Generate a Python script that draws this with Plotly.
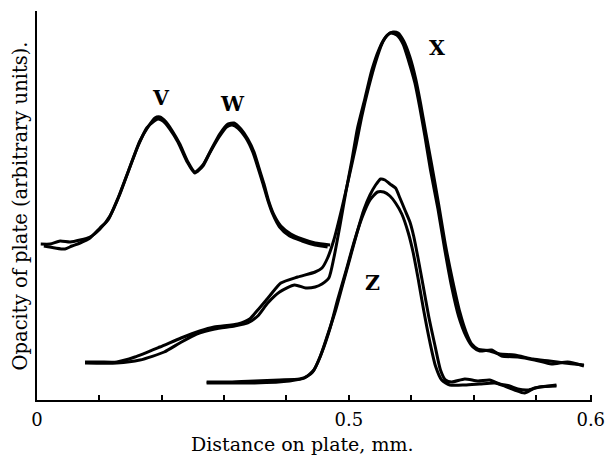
import plotly.graph_objects as go

# ---- data (distance on plate in mm-scale units, opacity in arbitrary units) ----
vw_a_x = [0.006,0.021,0.037,0.053,0.069,0.085,0.101,0.117,0.133,0.149,0.165,0.178,0.189,0.197,0.207,0.218,0.229,0.242,0.253,0.266,0.279,0.293,0.306,0.316,0.327,0.338,0.348,0.356,0.364,0.372,0.380,0.391,0.407,0.425,0.446,0.470]
vw_a_y = [15.6,15.6,15.9,15.8,16.0,16.3,17.1,18.4,20.6,23.3,25.9,27.3,28.2,28.3,27.8,26.8,25.6,23.8,22.8,23.5,25.0,26.6,27.6,27.7,27.1,26.1,24.8,23.2,21.6,19.8,18.5,17.4,16.6,16.1,15.7,15.5]
vw_b_x = [0.011,0.029,0.045,0.056,0.069,0.085,0.101,0.114,0.130,0.146,0.162,0.176,0.188,0.194,0.202,0.213,0.226,0.240,0.253,0.266,0.277,0.292,0.304,0.313,0.322,0.335,0.346,0.354,0.362,0.370,0.378,0.389,0.405,0.425,0.446,0.466]
vw_b_y = [15.4,15.2,15.1,15.4,15.7,16.2,17.2,18.0,20.2,22.8,25.4,27.2,27.9,28.1,27.9,27.1,25.8,23.9,22.7,23.4,24.7,26.3,27.3,27.5,27.2,26.2,24.8,23.3,21.7,20.0,18.6,17.3,16.4,15.9,15.5,15.3]

x_a_x = [0.077,0.101,0.128,0.157,0.197,0.231,0.261,0.284,0.322,0.341,0.354,0.373,0.391,0.418,0.446,0.457,0.466,0.476,0.489,0.500,0.511,0.521,0.532,0.543,0.553,0.562,0.571,0.579,0.588,0.598,0.607,0.615,0.623,0.633,0.644,0.655,0.667,0.678,0.688,0.697,0.707,0.726,0.742,0.766,0.795,0.822,0.846,0.877]
x_a_y = [3.8,3.8,3.8,4.3,5.3,6.2,6.9,7.3,7.6,8.1,9.0,10.4,11.7,12.3,12.8,13.2,14.2,16.0,19.2,22.2,25.3,28.4,31.3,33.8,35.6,36.5,36.8,36.7,35.9,34.3,32.2,29.7,26.9,23.5,19.6,15.5,11.8,8.8,6.8,5.6,5.1,4.9,4.6,4.5,4.1,3.9,3.7,3.5]
x_b_x = [0.077,0.128,0.165,0.204,0.229,0.256,0.285,0.317,0.338,0.354,0.370,0.389,0.413,0.431,0.446,0.457,0.468,0.476,0.486,0.495,0.505,0.514,0.526,0.537,0.548,0.558,0.567,0.577,0.587,0.596,0.606,0.614,0.622,0.631,0.643,0.654,0.665,0.676,0.688,0.699,0.710,0.729,0.745,0.771,0.798,0.825,0.851,0.877]
x_b_y = [3.7,3.7,4.0,4.8,5.7,6.6,7.1,7.4,7.7,8.4,9.7,10.8,11.5,11.2,11.3,11.6,12.2,14.2,17.5,20.7,24.0,27.2,30.2,33.0,35.0,36.2,36.7,36.5,35.6,33.9,31.7,29.2,26.4,23.0,19.1,15.0,11.3,8.4,6.4,5.3,4.9,5.0,4.4,4.3,4.0,3.6,3.8,3.4]

z_a_x = [0.272,0.309,0.349,0.389,0.421,0.434,0.442,0.454,0.466,0.479,0.490,0.502,0.513,0.524,0.534,0.543,0.551,0.558,0.566,0.575,0.582,0.590,0.598,0.604,0.611,0.619,0.628,0.638,0.647,0.655,0.665,0.686,0.707,0.726,0.742,0.758,0.771,0.787,0.806,0.833]
z_a_y = [1.8,1.8,1.9,2.0,2.1,2.4,2.8,4.3,6.5,9.0,11.5,14.2,16.7,19.0,20.5,21.5,22.1,22.0,21.6,21.2,20.2,19.0,17.8,16.4,14.2,11.5,8.4,5.5,3.0,2.0,1.8,2.1,1.9,2.0,1.6,1.4,1.1,1.0,1.3,1.4]
z_b_x = [0.272,0.349,0.405,0.429,0.444,0.457,0.470,0.482,0.495,0.508,0.521,0.534,0.546,0.556,0.566,0.575,0.585,0.595,0.603,0.611,0.620,0.630,0.639,0.649,0.662,0.686,0.710,0.734,0.750,0.766,0.782,0.798,0.833]
z_b_y = [1.7,1.7,1.9,2.2,3.0,4.8,7.2,10.0,12.8,15.7,18.2,20.0,20.8,20.8,20.4,19.7,18.6,16.8,14.8,12.2,9.0,5.8,3.4,2.0,1.5,1.5,1.6,1.7,1.4,1.0,0.7,1.2,1.5]

peak_labels = ["V", "W", "X", "Z"]
peak_label_x = [0.199, 0.313, 0.641, 0.538]
peak_label_y = [30.2, 29.6, 35.2, 11.7]

tick_vals = [0, 0.1, 0.2, 0.3, 0.4, 0.5, 0.6, 0.7, 0.8, 0.888]
tick_text = ["0", "", "", "", "", "0.5", "", "", "", "0.6"]

SERIF = "DejaVu Serif"

fig = go.Figure()
for xs, ys in [(vw_a_x, vw_a_y), (vw_b_x, vw_b_y), (x_a_x, x_a_y), (x_b_x, x_b_y),
               (z_a_x, z_a_y), (z_b_x, z_b_y)]:
    fig.add_trace(go.Scatter(x=xs, y=ys, mode="lines",
                             line=dict(color="black", width=3, shape="spline", smoothing=0.6),
                             hoverinfo="skip", showlegend=False))

for t, xx, yy in zip(peak_labels, peak_label_x, peak_label_y):
    fig.add_annotation(x=xx, y=yy, text=t, showarrow=False,
                       font=dict(family=SERIF, size=20.5, color="black", weight="bold"))

fig.add_annotation(x=0.479, y=-0.113, xref="paper", yref="paper", text="Distance on plate, mm.",
                   xanchor="center", yanchor="middle",
                   showarrow=False, font=dict(family=SERIF, size=19, color="black"))
fig.add_annotation(x=-0.029, y=0.5, xref="paper", yref="paper", text="Opacity of plate (arbitrary units).",
                   xanchor="center", yanchor="middle",
                   textangle=-90, showarrow=False, font=dict(family=SERIF, size=19.5, color="black"))

fig.update_layout(
    width=606, height=456,
    margin=dict(l=37, r=14, t=11, b=56),
    paper_bgcolor="white", plot_bgcolor="white",
    xaxis=dict(range=[0, 0.89], tickvals=tick_vals, ticktext=tick_text, automargin=False,
               ticks="inside", ticklen=5, tickwidth=2, tickcolor="black", ticklabelstandoff=2,
               showline=True, linecolor="black", linewidth=2.2, showgrid=False, zeroline=False,
               tickfont=dict(family=SERIF, size=18, color="black")),
    yaxis=dict(range=[0, 38.9], showticklabels=False, ticks="", automargin=False,
               showline=True, linecolor="black", linewidth=2.2, showgrid=False, zeroline=False),
)

fig.write_html("out.html", config={"displayModeBar": False},
               post_script="document.body.style.margin='0';document.body.style.overflow='hidden';")
